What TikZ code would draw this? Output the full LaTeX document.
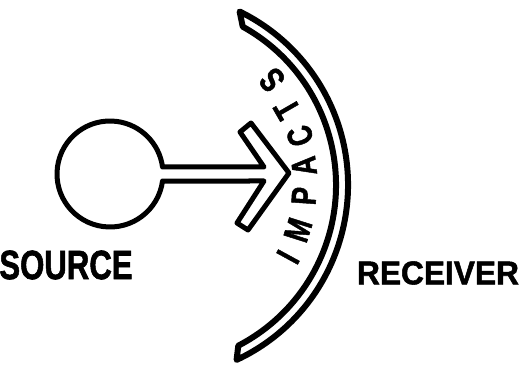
\documentclass[tikz,border=0pt]{standalone}
\usepackage{fontspec}
\setmainfont{Liberation Sans}
\newfontfamily\handfont{Liberation Sans}[BoldFeatures={FakeBold=1.6}]
\usetikzlibrary{calc}
\begin{document}
\begin{tikzpicture}[x=1pt,y=1pt,
  ink/.style={line width=6pt,line join=round,line cap=round,draw=black},
  hand/.style={inner sep=0pt,font=\handfont\bfseries\fontsize{#1}{#1}\selectfont},
  letter/.style={hand=35,xscale=0.76}]
\useasboundingbox (0,0) rectangle (521,364);
% centres
\coordinate (sc) at (110,190);
\coordinate (rc) at (155,179);
% source circle with stem and open arrowhead (one outline)
\coordinate (st) at (264,197);
\coordinate (ui) at (240,232);
\coordinate (uo) at (251,241);
\coordinate (apex) at (289,191);
\coordinate (lo) at (248,134);
\coordinate (li) at (237,141);
\coordinate (sb) at (264,183);
\draw[ink,line width=5pt] ([shift={(7.6:53)}]sc) -- (st) -- (ui) -- (uo) -- (apex) -- (lo) -- (li) -- (sb)
  -- ([shift={(-7.6:53)}]sc) arc[start angle=-7.6,end angle=-352.4,radius=53] -- cycle;
% receiver: double arc band
\draw[ink] ([shift={(-65:193)}]rc) arc[start angle=-65,end angle=64,radius=193]
  -- ([shift={(61:181)}]rc) arc[start angle=61,end angle=-62.6,radius=181] -- cycle;
% labels
\node[hand=41,xscale=0.76] (lsrc) at (66,99) {SOURCE};
\node[hand=33,xscale=0.96] (lrcv) at (438,91) {RECEIVER};
% IMPACTS along the arc
\node[rotate=61.4,letter] (i1) at (288,107) {I};
\node[rotate=72.4,letter] (i2) at (298,134) {M};
\node[rotate=86.1,letter] (i3) at (304,168) {P};
\node[rotate=96.9,letter] (i4) at (304,198) {A};
\node[rotate=109.3,letter] (i5) at (300,228) {C};
\node[rotate=120,letter] (i6) at (287,255) {T};
\node[rotate=131,letter] (i7) at (272,284) {S};
\end{tikzpicture}
\end{document}
